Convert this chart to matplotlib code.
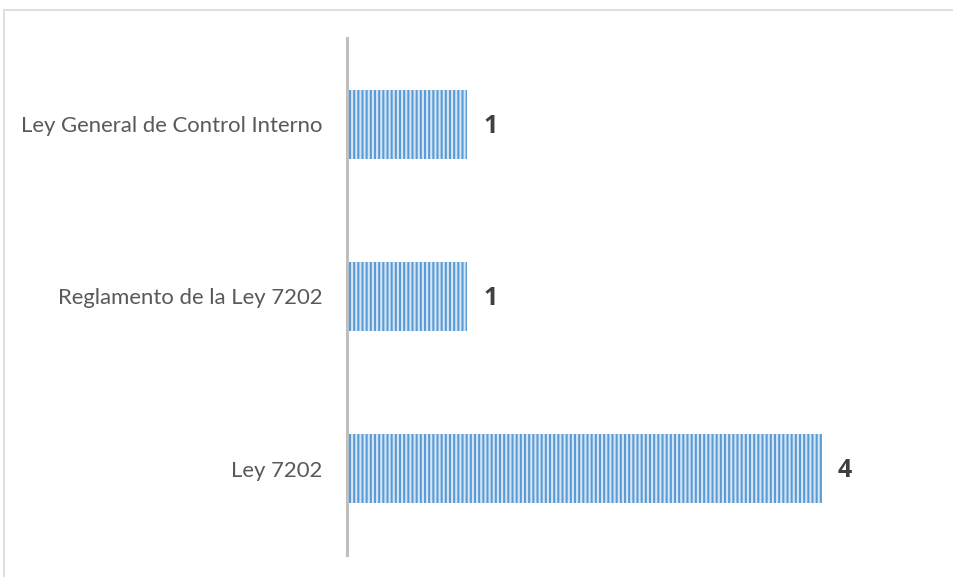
import matplotlib
matplotlib.use("Agg")
import matplotlib.pyplot as plt
from matplotlib.patches import Rectangle
from matplotlib.font_manager import FontProperties

categories = ["Ley 7202", "Reglamento de la Ley 7202", "Ley General de Control Interno"]
values = [4, 1, 1]

plt.rcParams["font.family"] = ["Lato", "DejaVu Sans"]
plt.rcParams["hatch.linewidth"] = 1.5

fig = plt.figure(figsize=(9.54, 5.77), dpi=100)
ax = fig.add_axes([349.5 / 954, 1 - 555 / 577, 590 / 954, (555 - 38) / 577])

# outer chart frame
fig.patches.append(Rectangle((4.5 / 954, -0.1), 1.2, 1.1 - 9.5 / 577,
                             transform=fig.transFigure, fill=False,
                             edgecolor="#D9D9D9", linewidth=1.2))

for s in ["top", "right", "bottom"]:
    ax.spines[s].set_visible(False)
ax.spines["left"].set_color("#BFBFBF")
ax.spines["left"].set_linewidth(2.2)
ax.spines["left"].set_position(("outward", 1.5))

ypos = list(range(len(categories)))
bars = ax.barh(ypos, values, height=0.4, color="#5B9BD5",
               edgecolor="#D6E6F5", linewidth=0, hatch="||||")

value_font = FontProperties(family="Open Sans", weight="bold", size=18)
for y, v in zip(ypos, values):
    ax.annotate(f"{v}", xy=(v, y), xytext=(11.5, -1.5), textcoords="offset points",
                ha="left", va="center", fontproperties=value_font,
                color="#404040")

ax.set_xlim(0, 5)
ax.set_ylim(-0.5, 2.5)
ax.set_yticks(ypos)
ax.set_yticklabels(categories, fontsize=15.9, color="#595959")
ax.tick_params(axis="y", length=0, pad=18)
ax.set_xticks([])

fig.savefig("out.png", dpi=100)
